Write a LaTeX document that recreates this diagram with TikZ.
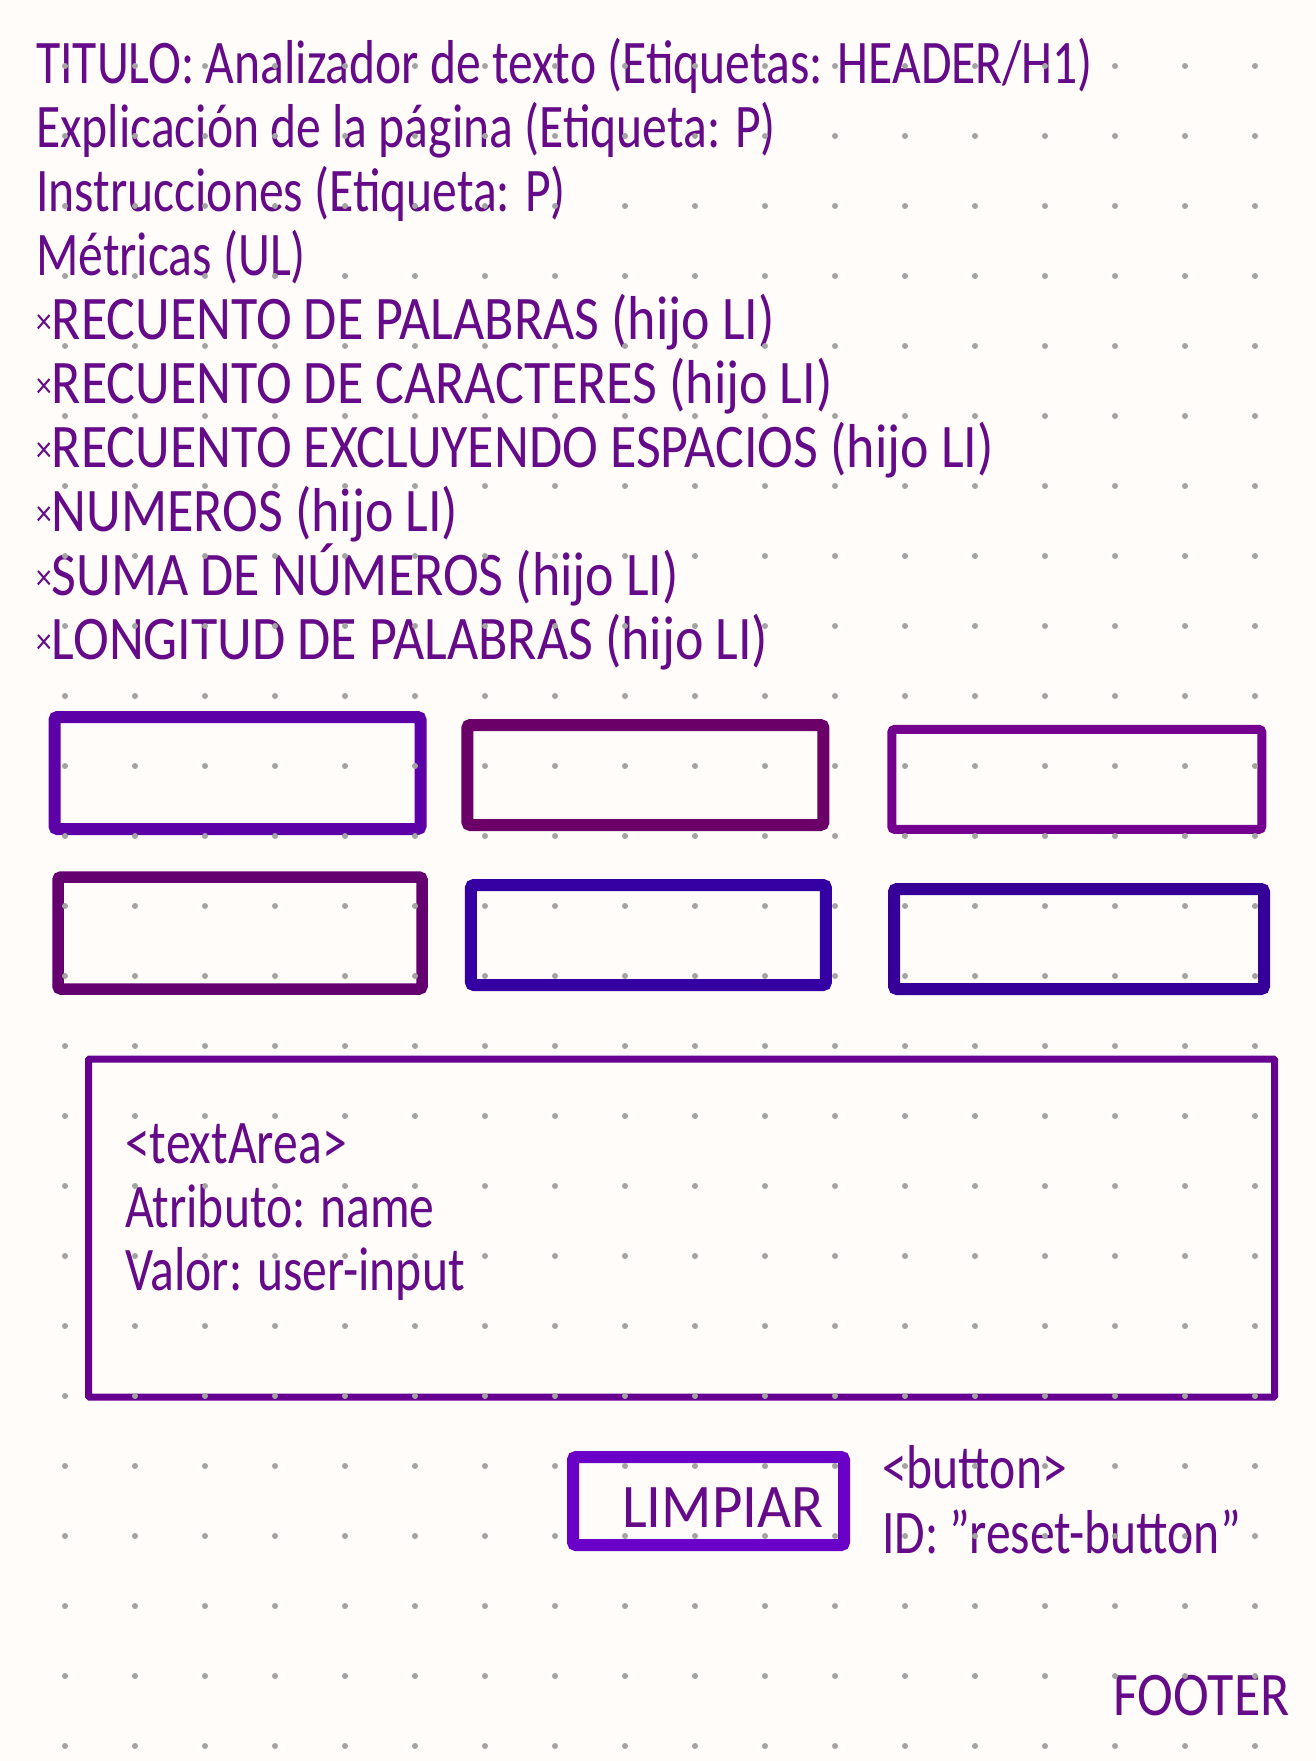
\documentclass[tikz,border=0pt]{standalone}
\usepackage{fontspec}
\setmainfont{Carlito}[FakeStretch=0.8]
\newfontfamily\mayus{Carlito}[FakeStretch=0.87]
\newfontfamily\ancha{Carlito}[FakeStretch=0.95]
\usetikzlibrary{positioning}

\definecolor{papel}{HTML}{FFFCF9}
\definecolor{punto}{HTML}{A3A3A3}
\definecolor{tinta}{HTML}{650A88}
\definecolor{violA}{HTML}{5C00A8}
\definecolor{violB}{HTML}{6B0068}
\definecolor{violC}{HTML}{73008F}
\definecolor{violD}{HTML}{640070}
\definecolor{violE}{HTML}{3500A3}
\definecolor{violF}{HTML}{360098}
\definecolor{violG}{HTML}{650090}
\definecolor{violH}{HTML}{6A00C8}

\tikzset{
  txt/.style={text=tinta, inner sep=0pt, anchor=base west, font=\fontsize{62}{62}\selectfont},
  item/.style={txt, font=\fontsize{62}{62}\mayus},
  caja/.style={draw=#1, line width=12pt, rounded corners=3pt, inner sep=0pt}
}
\newcommand{\vineta}{\raisebox{6pt}{\fontsize{36}{36}\selectfont ×}}

\begin{document}
\begin{tikzpicture}[x=1pt, y=-1pt]
	 \fill[papel] (0,0) rectangle (1316,1761);
	 \useasboundingbox (0,0) rectangle (1316,1761);

	 % encabezado y lista
	 \node [txt] (titulo) at (36,83) {TITULO: Analizador de texto (Etiquetas: HEADER/H1)};
	 \node [txt] (expl) at (36,147) {Explicación de la página (Etiqueta: P)};
	 \node [txt] (instr) at (36,211) {Instrucciones (Etiqueta: P)};
	 \node [txt] (metr) at (36,275) {Métricas (UL)};
	 \node [item] (li1) at (36,339) {\vineta RECUENTO DE PALABRAS (hijo LI)};
	 \node [item] (li2) at (36,403) {\vineta RECUENTO DE CARACTERES (hijo LI)};
	 \node [item] (li3) at (36,467) {\vineta RECUENTO EXCLUYENDO ESPACIOS (hijo LI)};
	 \node [item] (li4) at (36,531) {\vineta NUMEROS (hijo LI)};
	 \node [item] (li5) at (36,595) {\vineta SUMA DE NÚMEROS (hijo LI)};
	 \node [item] (li6) at (36,659) {\vineta LONGITUD DE PALABRAS (hijo LI)};

	 % seis cajas de metricas
	 \node [caja=violA, minimum width=366pt, minimum height=112pt] (m1) at (237.5,773) {};
	 \node [caja=violB, minimum width=356pt, minimum height=100pt] (m2) at (645.4,775) {};
	 \node [caja=violC, line width=9pt, minimum width=370pt, minimum height=100pt] (m3) at (1076.8,779.4) {};
	 \node [caja=violD, line width=11.5pt, minimum width=364pt, minimum height=112pt] (m4) at (240,933) {};
	 \node [caja=violE, minimum width=355pt, minimum height=100pt] (m5) at (648.4,935) {};
	 \node [caja=violF, minimum width=370pt, minimum height=100pt] (m6) at (1079,939) {};

	 % area de texto
	 \node [caja=violG, line width=7pt, rounded corners=1pt, minimum width=1186pt, minimum height=338pt] (area) at (681.5,1228) {};
	 \node [txt] (ta1) at (125,1163) {<textArea>};
	 \node [txt] (ta2) at (125,1227) {Atributo: name};
	 \node [txt] (ta3) at (125,1290) {Valor: user-input};

	 % boton
	 \node [caja=violH, minimum width=271pt, minimum height=88pt] (boton) at (708.5,1501) {};
	 \node [txt, font=\fontsize{62}{62}\ancha] (limpiar) at (622,1527) {LIMPIAR};
	 \node [txt] (bt1) at (882,1488) {<button>};
	 \node [txt] (bt2) at (882,1553) {ID: "reset-button"};

	 \node [item, anchor=base east] (pie) at (1290,1715) {FOOTER};

	 % rejilla de puntos
	 \foreach \i in {0,...,17}
	   \foreach \j in {0,...,24}
	     \fill[punto] (65+70*\i, 66+70*\j) circle (3pt);
\end{tikzpicture}
\end{document}
